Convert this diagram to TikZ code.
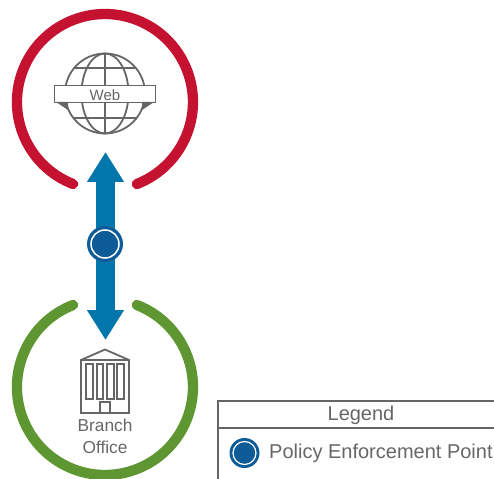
\documentclass[tikz,border=0pt]{standalone}
\usepackage{fontspec}
\setmainfont{Liberation Sans}
\usetikzlibrary{arrows.meta}
\definecolor{ringred}{HTML}{C41230}
\definecolor{ringgreen}{HTML}{5E9732}
\definecolor{linkblue}{HTML}{0076AD}
\definecolor{pepblue}{HTML}{0D5C97}
\definecolor{icongray}{HTML}{666666}
\tikzset{
  ring/.style={line width=10.3pt,line cap=round},
  icon/.style={draw=icongray,line width=1.8pt},
  label/.style={text=icongray,inner sep=0pt,align=center},
  pepouter/.style={shape=circle,fill=pepblue,inner sep=0pt},
  pepinner/.style={shape=circle,fill=pepblue,draw=white,line width=1.5pt,inner sep=0pt},
}
\begin{document}
\begin{tikzpicture}[x=1pt,y=-1pt]
    \useasboundingbox (0,0) rectangle (494,478);
    \clip (0,0) rectangle (494,478);
    \coordinate (webtip) at (105.5,152);
    \coordinate (branchtip) at (105.5,340);
    \coordinate (legendnw) at (218,401);
    \coordinate (legendsw) at (218,480);
    \coordinate (legendne) at (496,401);
    \coordinate (legendl) at (218,428);
    \coordinate (legendr) at (496,428);

    \draw[ring,draw=ringred] (73,184) arc[start angle=111.3,delta angle=317.4,radius=88];
    \draw[ring,draw=ringgreen] (73,305) arc[start angle=248.7,delta angle=-317.4,radius=88];

    \draw[icon] (105,93.5) circle[radius=40];
    \draw[icon] (105,93.5) ellipse[x radius=23.5,y radius=40];
    \draw[icon] (105,53.5) -- (105,133.5);
    \draw[icon] (74,68) -- (136,68);
    \draw[icon] (74,118) -- (136,118);
    \node[icon,fill=white,label,minimum width=101pt,minimum height=17pt,text height=12.8pt,text depth=0pt,font=\fontsize{15}{15}\selectfont] (web) at (105,94) {Web};
    \fill[icongray] (56,102) -- (68,110) -- (68,102) -- cycle;
    \fill[icongray] (154,102) -- (142,110) -- (142,102) -- cycle;

    \draw[icon] (81,413) -- (81,360) -- (105,349.5) -- (129,360) -- (129,413) -- cycle;
    \draw[icon] (81,360) -- (129,360);
    \node[icon,minimum width=6.5pt,minimum height=35pt,inner sep=0pt] (win1) at (89.5,381.5) {};
    \node[icon,minimum width=6.5pt,minimum height=35pt,inner sep=0pt] (win2) at (100,381.5) {};
    \node[icon,minimum width=6.5pt,minimum height=35pt,inner sep=0pt] (win3) at (110.5,381.5) {};
    \node[icon,minimum width=6.5pt,minimum height=35pt,inner sep=0pt] (win4) at (120.5,381.5) {};
    \node[icon,minimum width=10pt,minimum height=11pt,inner sep=0pt] (door) at (105,407.5) {};
    \node[label,font=\fontsize{17.3}{22}\selectfont] (branch) at (105,436) {Branch\\Office};

    \draw[line width=19pt,draw=linkblue,{Triangle[length=30pt,width=35pt]}-{Triangle[length=30pt,width=35pt]}] (webtip) -- (branchtip);
    \node[pepouter,minimum size=36pt] (pep) at (105,244) {};
    \node[pepinner,minimum size=28pt] (pepcore) at (pep) {};

    \draw[icon] (legendsw) -- (legendnw) -- (legendne);
    \draw[icon] (legendl) -- (legendr);
    \node[label,font=\fontsize{20}{20}\selectfont] (legend) at (361,415) {Legend};
    \node[pepouter,minimum size=30pt] (legendpep) at (244.5,453) {};
    \node[pepinner,minimum size=23pt,line width=1.2pt] (legendcore) at (legendpep) {};
    \node[label,font=\fontsize{20}{20}\selectfont,anchor=west] (legendtext) at (269,453.5) {Policy Enforcement Point};
\end{tikzpicture}
\end{document}
